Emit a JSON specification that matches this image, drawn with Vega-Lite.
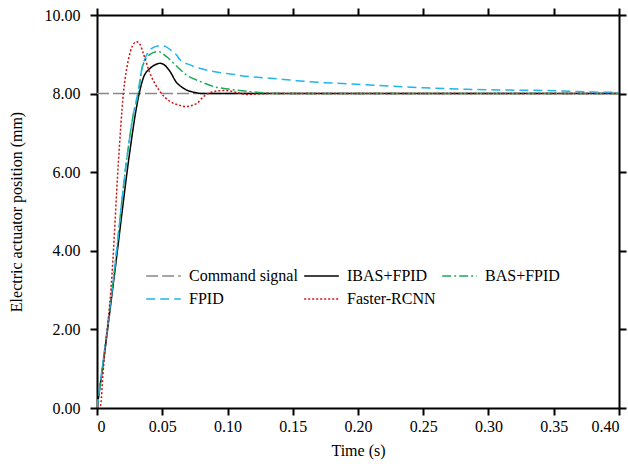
{
  "$schema": "https://vega.github.io/schema/vega-lite/v6.json",
  "width": 522,
  "height": 393,
  "autosize": "none",
  "padding": {"left": 97, "top": 15, "right": 9, "bottom": 56},
  "background": "white",
  "config": {
    "view": {"stroke": null},
    "font": "Liberation Serif",
    "axis": {"grid": false, "domainColor": "black", "domainWidth": 2, "tickColor": "black", "tickWidth": 2, "tickSize": 7, "labelFont": "Liberation Serif", "labelFontSize": 16, "labelColor": "black", "titleFont": "Liberation Serif", "titleFontSize": 16, "titleFontWeight": "normal", "titleColor": "black"}
  },
  "data": {"values": [
    {"s": "Command signal", "t": 0, "v": 8},
    {"s": "Command signal", "t": 0.4, "v": 8},
    {"s": "IBAS+FPID", "t": 0, "v": 0},
    {"s": "IBAS+FPID", "t": 0.004, "v": 0.95},
    {"s": "IBAS+FPID", "t": 0.0138, "v": 3.51},
    {"s": "IBAS+FPID", "t": 0.0253, "v": 6.56},
    {"s": "IBAS+FPID", "t": 0.030, "v": 7.6},
    {"s": "IBAS+FPID", "t": 0.033, "v": 8.1},
    {"s": "IBAS+FPID", "t": 0.0355, "v": 8.4},
    {"s": "IBAS+FPID", "t": 0.0406, "v": 8.64},
    {"s": "IBAS+FPID", "t": 0.045, "v": 8.74},
    {"s": "IBAS+FPID", "t": 0.0483, "v": 8.77},
    {"s": "IBAS+FPID", "t": 0.052, "v": 8.72},
    {"s": "IBAS+FPID", "t": 0.056, "v": 8.56},
    {"s": "IBAS+FPID", "t": 0.061, "v": 8.28},
    {"s": "IBAS+FPID", "t": 0.0636, "v": 8.2},
    {"s": "IBAS+FPID", "t": 0.0687, "v": 8.09},
    {"s": "IBAS+FPID", "t": 0.075, "v": 8.03},
    {"s": "IBAS+FPID", "t": 0.081, "v": 8.0},
    {"s": "IBAS+FPID", "t": 0.4, "v": 8.0},
    {"s": "BAS+FPID", "t": 0, "v": 0},
    {"s": "BAS+FPID", "t": 0.004, "v": 1.0},
    {"s": "BAS+FPID", "t": 0.0135, "v": 3.55},
    {"s": "BAS+FPID", "t": 0.0227, "v": 6.31},
    {"s": "BAS+FPID", "t": 0.028, "v": 7.5},
    {"s": "BAS+FPID", "t": 0.0317, "v": 8.0},
    {"s": "BAS+FPID", "t": 0.0342, "v": 8.6},
    {"s": "BAS+FPID", "t": 0.0368, "v": 8.85},
    {"s": "BAS+FPID", "t": 0.0406, "v": 9.0},
    {"s": "BAS+FPID", "t": 0.047, "v": 9.07},
    {"s": "BAS+FPID", "t": 0.0533, "v": 8.94},
    {"s": "BAS+FPID", "t": 0.06, "v": 8.73},
    {"s": "BAS+FPID", "t": 0.0687, "v": 8.47},
    {"s": "BAS+FPID", "t": 0.079, "v": 8.31},
    {"s": "BAS+FPID", "t": 0.0892, "v": 8.18},
    {"s": "BAS+FPID", "t": 0.102, "v": 8.11},
    {"s": "BAS+FPID", "t": 0.117, "v": 8.05},
    {"s": "BAS+FPID", "t": 0.133, "v": 8.01},
    {"s": "BAS+FPID", "t": 0.15, "v": 8.0},
    {"s": "BAS+FPID", "t": 0.4, "v": 8.0},
    {"s": "FPID", "t": 0, "v": 0},
    {"s": "FPID", "t": 0.004, "v": 1.0},
    {"s": "FPID", "t": 0.0135, "v": 3.55},
    {"s": "FPID", "t": 0.0227, "v": 6.31},
    {"s": "FPID", "t": 0.028, "v": 7.5},
    {"s": "FPID", "t": 0.0317, "v": 8.09},
    {"s": "FPID", "t": 0.0342, "v": 8.6},
    {"s": "FPID", "t": 0.038, "v": 8.98},
    {"s": "FPID", "t": 0.0419, "v": 9.15},
    {"s": "FPID", "t": 0.0483, "v": 9.22},
    {"s": "FPID", "t": 0.053, "v": 9.19},
    {"s": "FPID", "t": 0.056, "v": 9.12},
    {"s": "FPID", "t": 0.061, "v": 8.98},
    {"s": "FPID", "t": 0.0636, "v": 8.86},
    {"s": "FPID", "t": 0.0713, "v": 8.73},
    {"s": "FPID", "t": 0.0866, "v": 8.58},
    {"s": "FPID", "t": 0.102, "v": 8.5},
    {"s": "FPID", "t": 0.117, "v": 8.43},
    {"s": "FPID", "t": 0.133, "v": 8.39},
    {"s": "FPID", "t": 0.153, "v": 8.33},
    {"s": "FPID", "t": 0.173, "v": 8.28},
    {"s": "FPID", "t": 0.199, "v": 8.24},
    {"s": "FPID", "t": 0.2245, "v": 8.19},
    {"s": "FPID", "t": 0.25, "v": 8.15},
    {"s": "FPID", "t": 0.283, "v": 8.11},
    {"s": "FPID", "t": 0.316, "v": 8.09},
    {"s": "FPID", "t": 0.355, "v": 8.07},
    {"s": "FPID", "t": 0.38, "v": 8.04},
    {"s": "FPID", "t": 0.4, "v": 8.03},
    {"s": "Faster-RCNN", "t": 0, "v": 0},
    {"s": "Faster-RCNN", "t": 0.0026, "v": 0.05},
    {"s": "Faster-RCNN", "t": 0.0048, "v": 0.97},
    {"s": "Faster-RCNN", "t": 0.0115, "v": 3.4},
    {"s": "Faster-RCNN", "t": 0.0163, "v": 6.2},
    {"s": "Faster-RCNN", "t": 0.0202, "v": 8.0},
    {"s": "Faster-RCNN", "t": 0.024, "v": 8.85},
    {"s": "Faster-RCNN", "t": 0.027, "v": 9.2},
    {"s": "Faster-RCNN", "t": 0.0303, "v": 9.32},
    {"s": "Faster-RCNN", "t": 0.033, "v": 9.25},
    {"s": "Faster-RCNN", "t": 0.0355, "v": 9.02},
    {"s": "Faster-RCNN", "t": 0.0406, "v": 8.52},
    {"s": "Faster-RCNN", "t": 0.0483, "v": 8.05},
    {"s": "Faster-RCNN", "t": 0.056, "v": 7.8},
    {"s": "Faster-RCNN", "t": 0.0636, "v": 7.7},
    {"s": "Faster-RCNN", "t": 0.0674, "v": 7.67},
    {"s": "Faster-RCNN", "t": 0.0764, "v": 7.75},
    {"s": "Faster-RCNN", "t": 0.0815, "v": 7.92},
    {"s": "Faster-RCNN", "t": 0.0892, "v": 8.05},
    {"s": "Faster-RCNN", "t": 0.098, "v": 8.08},
    {"s": "Faster-RCNN", "t": 0.107, "v": 8.03},
    {"s": "Faster-RCNN", "t": 0.115, "v": 7.98},
    {"s": "Faster-RCNN", "t": 0.13, "v": 8.0},
    {"s": "Faster-RCNN", "t": 0.4, "v": 8.0}
  ]},
  "layer": [
    {
      "mark": {"type": "line", "strokeWidth": 1.5, "interpolate": "monotone", "clip": true},
      "encoding": {
        "x": {"field": "t", "type": "quantitative", "scale": {"domain": [0, 0.4], "nice": false, "zero": false},
          "axis": {"title": "Time (s)", "values": [0, 0.05, 0.1, 0.15, 0.2, 0.25, 0.3, 0.35, 0.4], "labelExpr": "datum.value == 0 ? '0' : format(datum.value, '.2f')", "labelPadding": 3, "titlePadding": 8}},
        "y": {"field": "v", "type": "quantitative", "scale": {"domain": [0, 10], "nice": false},
          "axis": {"title": "Electric actuator position (mm)", "values": [0, 2, 4, 6, 8, 10], "format": ".2f", "labelPadding": 10, "titlePadding": 20}},
        "color": {"field": "s", "type": "nominal",
          "scale": {"domain": ["Command signal", "IBAS+FPID", "BAS+FPID", "FPID", "Faster-RCNN"], "range": ["#888888", "#000000", "#1aaa5a", "#22b4ee", "#d01010"]},
          "legend": {"title": null, "orient": "none", "legendX": 48, "legendY": 254, "columns": 3, "direction": "horizontal", "symbolType": "stroke", "symbolSize": 1200, "symbolStrokeWidth": 1.5, "labelFont": "Liberation Serif", "labelFontSize": 16, "labelColor": "black", "labelOffset": 7, "columnPadding": 5, "rowPadding": 7, "clipHeight": 14, "padding": 0, "labelLimit": 300}},
        "strokeDash": {"field": "s", "type": "nominal",
          "scale": {"domain": ["Command signal", "IBAS+FPID", "BAS+FPID", "FPID", "Faster-RCNN"], "range": [[12, 4], [1, 0], [9, 3, 2, 3], [9, 5], [2, 2]]},
          "legend": {"title": null, "orient": "none", "legendX": 48, "legendY": 254, "columns": 3, "direction": "horizontal", "symbolType": "stroke", "symbolSize": 1200, "symbolStrokeWidth": 1.5, "labelFont": "Liberation Serif", "labelFontSize": 16, "labelColor": "black", "labelOffset": 7, "columnPadding": 5, "rowPadding": 7, "clipHeight": 14, "padding": 0, "labelLimit": 300}}
      }
    },
    {
      "mark": {"type": "rule", "opacity": 0},
      "encoding": {
        "x": {"field": "t", "type": "quantitative", "aggregate": "min", "axis": {"orient": "top", "title": null, "labels": false, "values": [0, 0.05, 0.1, 0.15, 0.2, 0.25, 0.3, 0.35, 0.4]}},
        "y": {"field": "v", "type": "quantitative", "aggregate": "min", "axis": {"orient": "right", "title": null, "labels": false, "values": [0, 2, 4, 6, 8, 10]}}
      }
    }
  ],
  "resolve": {"axis": {"x": "independent", "y": "independent"}}
}
